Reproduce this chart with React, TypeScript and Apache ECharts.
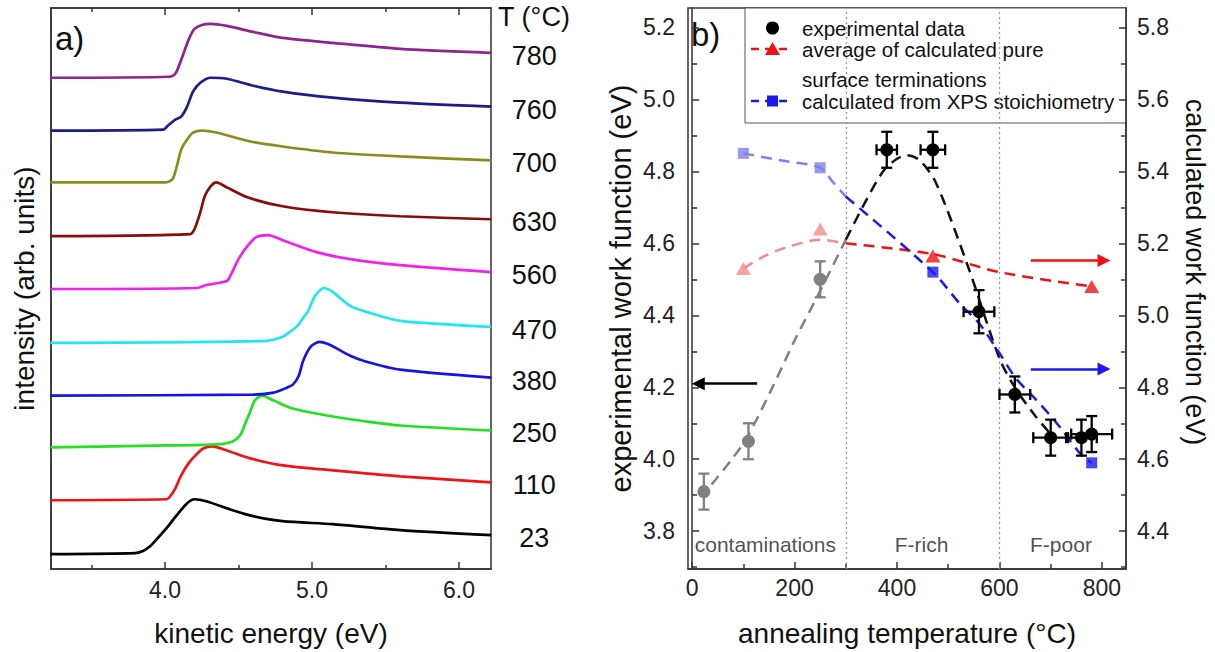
import React, { useEffect, useRef } from "react";
import * as echarts from "echarts";

// ---------------- panel a: photoemission cut-off spectra ----------------
const temperatures = [23, 110, 250, 380, 470, 560, 630, 700, 760, 780];

const spectrum23 = [[3.22,15],[3.80,16],[3.85,18],[3.90,23],[3.95,31],[4.01,41],[4.08,54],[4.15,66],[4.20,70],[4.28,68],[4.46,59],[4.60,53],[4.80,48],[5.14,45],[5.60,39],[6.22,34]];
const spectrum110 = [[3.22,69],[4.01,70],[4.03,72],[4.07,81],[4.11,94],[4.16,106],[4.22,116],[4.26,121],[4.32,123],[4.42,119],[4.58,111],[4.80,104],[5.14,99],[5.60,93],[6.22,87]];
const spectrum250 = [[3.22,122],[4.01,124],[4.35,125],[4.46,128],[4.51,134],[4.54,144],[4.58,158],[4.61,169],[4.66,174],[4.74,169],[4.87,161],[5.14,153],[5.37,148],[5.60,144],[6.22,139]];
const spectrum380 = [[3.22,174],[4.60,175],[4.74,177],[4.83,182],[4.87,185],[4.91,194],[4.94,209],[4.99,223],[5.05,228],[5.12,225],[5.26,214],[5.37,208],[5.60,200],[6.22,192]];
const spectrum470 = [[3.22,227],[4.69,229],[4.80,233],[4.85,238],[4.90,244],[4.94,252],[4.97,258],[5.02,274],[5.08,282],[5.14,278],[5.26,264],[5.37,258],[5.60,249],[6.22,243]];
const spectrum560 = [[3.22,281],[4.22,282],[4.28,285],[4.42,289],[4.45,296],[4.50,311],[4.56,324],[4.62,333],[4.70,335],[4.80,330],[5.03,318],[5.26,311],[5.60,305],[6.22,298]];
const spectrum630 = [[3.22,334],[4.17,336],[4.20,341],[4.24,358],[4.27,374],[4.31,384],[4.35,388],[4.42,383],[4.56,373],[4.80,364],[5.14,358],[5.60,354],[6.22,351]];
const spectrum700 = [[3.22,388],[4.00,388],[4.05,391],[4.08,404],[4.11,421],[4.15,431],[4.19,438],[4.25,440],[4.35,438],[4.58,429],[4.80,424],[5.14,418],[5.60,414],[6.22,410]];
const spectrum760 = [[3.22,440],[3.99,441],[4.02,445],[4.07,451],[4.11,454],[4.15,464],[4.19,479],[4.24,488],[4.31,493],[4.42,492],[4.60,485],[4.80,479],[5.14,473],[5.60,468],[6.22,464]];
const spectrum780 = [[3.22,493],[4.03,494],[4.07,497],[4.11,511],[4.16,531],[4.20,542],[4.25,546],[4.31,547],[4.42,545],[4.60,539],[4.80,533],[5.14,528],[5.60,522],[6.22,518]];

const spectra = [spectrum23, spectrum110, spectrum250, spectrum380, spectrum470, spectrum560, spectrum630, spectrum700, spectrum760, spectrum780];
const energyTicks = [4.0, 5.0, 6.0];

// ---------------- panel b: work function ----------------
const expWorkFunction = [3.91, 4.05, 4.50, 4.86, 4.86, 4.41, 4.18, 4.06, 4.06, 4.07];
const expTempError = [0, 0, 0, 20, 24, 30, 30, 34, 30, 40];
const expWfError = [0.05, 0.05, 0.05, 0.05, 0.05, 0.06, 0.05, 0.05, 0.05, 0.05];

const calcTemperatures = [100, 250, 470, 780];
const avgPureTerminations = [5.13, 5.24, 5.165, 5.08];
const xpsStoichiometry = [5.45, 5.41, 5.12, 4.59];

const expTrendContam = [[38,3.93],[75,3.995],[107,4.06],[157,4.2],[200,4.33],[249,4.465],[300,4.61]];
const expTrendMain = [[300,4.61],[340,4.72],[373,4.80],[400,4.835],[420,4.845],[445,4.83],[477,4.765],[540,4.53],[600,4.28],[630,4.2],[670,4.12],[700,4.07]];
const avgTrendContam = [[100,5.13],[142,5.165],[187,5.19],[249,5.21],[300,5.2]];
const avgTrendMain = [[300,5.2],[470,5.17],[600,5.12],[780,5.08]];
const xpsTrendContam = [[100,5.45],[175,5.43],[250,5.41],[275,5.37],[300,5.33]];
const xpsTrendMain = [[300,5.33],[470,5.12],[524,5.03],[559,4.98],[593,4.91],[632,4.825],[662,4.78],[700,4.72],[723,4.68],[761,4.61],[780,4.59]];

const expArrow = [[127, 4.21], [12, 4.21]];
const avgArrow = [[661, 5.152], [804, 5.152]];
const xpsArrow = [[661, 4.851], [804, 4.851]];

const regionBounds = [300, 600];
const regionLabels = ["contaminations", "F-rich", "F-poor"];
const regionLabelTemps = [143, 448, 720];
const regionLabelLevel = 3.764;

const temperatureTicks = [0, 200, 400, 600, 800];
const expWfTicks = [3.8, 4.0, 4.2, 4.4, 4.6, 4.8, 5.0, 5.2];
const calcWfTicks = [4.4, 4.6, 4.8, 5.0, 5.2, 5.4, 5.6, 5.8];

// ---------------- styles ----------------
const FONT = "'Liberation Sans', Arial, Helvetica, sans-serif";
const spectrumColors = ["#000000", "#f01414", "#22e022", "#1414e6", "#22e6f0", "#f020f0", "#8b0a0a", "#8c8c1e", "#1c1c8c", "#8e248e"];
const AXIS = "#333";
const GRAY = "#808080";
const RED = "#ee1111";
const LIGHT_RED = "#f28c8c";
const BLUE = "#1a1aee";
const LIGHT_BLUE = "#8080ee";

export default function App() {
  const ref = useRef<HTMLDivElement>(null);

  useEffect(() => {
    if (!ref.current) return;
    const chart = echarts.init(ref.current, undefined, { renderer: "svg" });

    const axisLine = { show: true, lineStyle: { color: AXIS, width: 1.5 } };
    const tickLabel = { color: "#222", fontSize: 23, fontFamily: FONT };

    const spectraSeries = spectra.map((d, i) => ({
      type: "line",
      name: String(temperatures[i]),
      xAxisIndex: 0,
      yAxisIndex: 0,
      data: d,
      showSymbol: false,
      smooth: 0.25,
      lineStyle: { color: spectrumColors[i], width: 2.7 },
      itemStyle: { color: spectrumColors[i] },
      z: 2,
    }));

    const dashed = (data: number[][], color: string, yAxisIndex: number, extra: any = {}) => ({
      type: "line",
      xAxisIndex: 2,
      yAxisIndex,
      data,
      showSymbol: false,
      smooth: 0.3,
      lineStyle: { color, width: 2.5, type: [11, 7] },
      z: 3,
      ...extra,
    });

    const arrow = (coords: number[][], color: string, yAxisIndex: number) => ({
      type: "lines",
      coordinateSystem: "cartesian2d",
      xAxisIndex: 2,
      yAxisIndex,
      symbol: ["none", "triangle"],
      symbolSize: [12, 13],
      lineStyle: { color, width: 2.6, opacity: 1, curveness: 0 },
      data: [{ coords }],
      z: 4,
    });

    const legendFont = 20.5;
    const baseGraphics: any[] = [
      { type: "text", x: 55, y: 38, style: { text: "a)", fontSize: 33, fontFamily: FONT, fill: "#111", align: "left", verticalAlign: "middle" } },
      { type: "text", x: 534, y: 17, style: { text: "T (°C)", fontSize: 27, fontFamily: FONT, fill: "#111", align: "center", verticalAlign: "middle" } },
      { type: "text", x: 691, y: 34, style: { text: "b)", fontSize: 33, fontFamily: FONT, fill: "#111", align: "left", verticalAlign: "middle" } },
      {
        type: "text", x: 1195, y: 272, rotation: -Math.PI / 2,
        style: { text: "calculated work function (eV)", fontSize: 27, fontFamily: FONT, fill: "#111", align: "center", verticalAlign: "middle" },
      },
      {
        type: "group", z: 100,
        children: [
          { type: "rect", shape: { x: 745, y: 8, width: 381, height: 115 }, style: { fill: "#fff", stroke: "#555", lineWidth: 1 } },
          { type: "circle", shape: { cx: 772.5, cy: 28, r: 6.5 }, style: { fill: "#000" } },
          { type: "text", x: 802, y: 28, style: { text: "experimental data", fontSize: legendFont, fontFamily: FONT, fill: "#111", verticalAlign: "middle" } },
          { type: "line", shape: { x1: 751, y1: 49, x2: 793, y2: 49 }, style: { stroke: RED, lineWidth: 2.5, lineDash: [8, 6] } },
          { type: "polygon", shape: { points: [[772.5, 42], [780, 55], [765, 55]] }, style: { fill: RED } },
          { type: "text", x: 802, y: 49, style: { text: "average of calculated pure", fontSize: legendFont, fontFamily: FONT, fill: "#111", verticalAlign: "middle" } },
          { type: "text", x: 802, y: 79, style: { text: "surface terminations", fontSize: legendFont, fontFamily: FONT, fill: "#111", verticalAlign: "middle" } },
          { type: "line", shape: { x1: 751, y1: 101, x2: 793, y2: 101 }, style: { stroke: BLUE, lineWidth: 2.5, lineDash: [8, 6] } },
          { type: "rect", shape: { x: 767, y: 95.5, width: 11, height: 11 }, style: { fill: BLUE } },
          { type: "text", x: 802, y: 101, style: { text: "calculated from XPS stoichiometry", fontSize: legendFont, fontFamily: FONT, fill: "#111", verticalAlign: "middle" } },
        ],
      },
    ];

    const option: any = {
      animation: false,
      textStyle: { fontFamily: FONT },
      grid: [
        { left: 51, top: 8, width: 440, height: 563, show: true, borderColor: AXIS, borderWidth: 1.5, backgroundColor: "transparent" },
        { left: 688, top: 8, width: 438, height: 564, show: true, borderColor: AXIS, borderWidth: 1.5, backgroundColor: "transparent" },
      ],
      xAxis: [
        {
          type: "value", gridIndex: 0, min: 3.224, max: 6.218, splitNumber: 3,
          axisLine,
          axisTick: { show: true, inside: true, length: 7, customValues: energyTicks, lineStyle: { color: AXIS, width: 1.5 } },
          minorTick: { show: true, splitNumber: 2, length: 4, lineStyle: { color: AXIS, width: 1.5 } },
          axisLabel: { ...tickLabel, margin: 9, customValues: energyTicks, formatter: (v: number) => v.toFixed(1) },
          splitLine: { show: false },
          name: "kinetic energy (eV)", nameLocation: "middle", nameGap: 50,
          nameTextStyle: { fontSize: 28, color: "#111", fontFamily: FONT },
        },
        {
          type: "value", gridIndex: 0, position: "top", min: 3.224, max: 6.218, splitNumber: 3,
          axisLine,
          axisTick: { show: true, inside: true, length: 7, customValues: energyTicks, lineStyle: { color: AXIS, width: 1.5 } },
          minorTick: { show: true, splitNumber: 2, length: 4, lineStyle: { color: AXIS, width: 1.5 } },
          axisLabel: { show: false },
          splitLine: { show: false },
        },
        {
          type: "value", gridIndex: 1, min: -8, max: 847, splitNumber: 4,
          axisLine,
          axisTick: { show: true, inside: true, length: 7, customValues: temperatureTicks, lineStyle: { color: AXIS, width: 1.5 } },
          minorTick: { show: true, splitNumber: 2, length: 5, lineStyle: { color: AXIS, width: 1.5 } },
          axisLabel: { ...tickLabel, margin: 7, customValues: temperatureTicks },
          splitLine: { show: false },
          name: "annealing temperature (°C)", nameLocation: "middle", nameGap: 50,
          nameTextStyle: { fontSize: 28, color: "#111", fontFamily: FONT },
        },
      ],
      yAxis: [
        {
          type: "value", gridIndex: 0, min: 0, max: 563,
          axisLine, axisTick: { show: false }, axisLabel: { show: false }, splitLine: { show: false },
          name: "intensity (arb. units)", nameLocation: "middle", nameGap: 13,
          nameTextStyle: { fontSize: 28, color: "#111", fontFamily: FONT },
        },
        {
          type: "value", gridIndex: 1, min: 3.695, max: 5.254, splitNumber: 8,
          axisLine,
          axisTick: { show: true, inside: true, length: 7, customValues: expWfTicks, lineStyle: { color: AXIS, width: 1.5 } },
          minorTick: { show: true, splitNumber: 2, length: 5, lineStyle: { color: AXIS, width: 1.5 } },
          axisLabel: { ...tickLabel, margin: 13, customValues: expWfTicks, formatter: (v: number) => v.toFixed(1) },
          splitLine: { show: false },
          name: "experimental work function (eV)", nameLocation: "middle", nameGap: 53,
          nameTextStyle: { fontSize: 29, color: "#111", fontFamily: FONT },
        },
        {
          type: "value", gridIndex: 1, position: "right", min: 4.295, max: 5.854, splitNumber: 8,
          axisLine,
          axisTick: { show: true, inside: true, length: 7, customValues: calcWfTicks, lineStyle: { color: AXIS, width: 1.5 } },
          minorTick: { show: true, splitNumber: 2, length: 5, lineStyle: { color: AXIS, width: 1.5 } },
          axisLabel: { ...tickLabel, margin: 11, customValues: calcWfTicks, formatter: (v: number) => v.toFixed(1) },
          splitLine: { show: false },
        },
      ],
      series: [
        ...spectraSeries,
        dashed(expTrendContam, GRAY, 1),
        dashed(expTrendMain, "#111", 1),
        dashed(avgTrendContam, LIGHT_RED, 2),
        dashed(avgTrendMain, RED, 2, {
          markLine: {
            silent: true,
            symbol: "none",
            label: { show: false },
            lineStyle: { color: "#9a9a9a", width: 1.3, type: [2, 3] },
            data: regionBounds.map((b) => ({ xAxis: b })),
            z: 1,
          },
        }),
        dashed(xpsTrendContam, LIGHT_BLUE, 2),
        dashed(xpsTrendMain, BLUE, 2),
        arrow(expArrow, "#000", 1),
        arrow(avgArrow, RED, 2),
        arrow(xpsArrow, BLUE, 2),
        {
          type: "scatter", xAxisIndex: 2, yAxisIndex: 2, symbol: "triangle", symbolSize: [15, 13], z: 5,
          data: calcTemperatures.map((t, i) => ({ value: [t, avgPureTerminations[i]], itemStyle: { color: t < regionBounds[0] ? LIGHT_RED : RED } })),
        },
        {
          type: "scatter", xAxisIndex: 2, yAxisIndex: 2, symbol: "rect", symbolSize: 11, z: 5,
          data: calcTemperatures.map((t, i) => ({ value: [t, xpsStoichiometry[i]], itemStyle: { color: t < regionBounds[0] ? LIGHT_BLUE : BLUE } })),
        },
        {
          type: "scatter", xAxisIndex: 2, yAxisIndex: 1, symbolSize: 0, z: 5, silent: true,
          data: regionLabels.map((n, i) => ({ name: n, value: [regionLabelTemps[i], regionLabelLevel] })),
          label: { show: true, position: "inside", formatter: "{b}", fontSize: 21, color: "#222", fontFamily: FONT },
        },
        {
          type: "custom", xAxisIndex: 2, yAxisIndex: 1, z: 6,
          encode: { x: 0, y: 1 },
          data: temperatures.map((t, i) => [t, expWorkFunction[i], expTempError[i], expWfError[i]]),
          renderItem: (params: any, api: any) => {
            const t = api.value(0), wf = api.value(1), te = api.value(2), we = api.value(3);
            const c = api.coord([t, wf]);
            const top = api.coord([t, wf + we]);
            const bot = api.coord([t, wf - we]);
            const color = t < regionBounds[0] ? GRAY : "#000";
            const st = { stroke: color, lineWidth: 2.3, fill: null };
            const cap = 5.5;
            const children: any[] = [
              { type: "line", shape: { x1: c[0], y1: top[1], x2: c[0], y2: bot[1] }, style: st },
              { type: "line", shape: { x1: c[0] - cap, y1: top[1], x2: c[0] + cap, y2: top[1] }, style: st },
              { type: "line", shape: { x1: c[0] - cap, y1: bot[1], x2: c[0] + cap, y2: bot[1] }, style: st },
            ];
            if (te > 0) {
              const l = api.coord([t - te, wf]);
              const r = api.coord([t + te, wf]);
              children.push(
                { type: "line", shape: { x1: l[0], y1: c[1], x2: r[0], y2: c[1] }, style: st },
                { type: "line", shape: { x1: l[0], y1: c[1] - cap, x2: l[0], y2: c[1] + cap }, style: st },
                { type: "line", shape: { x1: r[0], y1: c[1] - cap, x2: r[0], y2: c[1] + cap }, style: st },
              );
            }
            children.push({ type: "circle", shape: { cx: c[0], cy: c[1], r: 6.5 }, style: { fill: color } });
            return { type: "group", children };
          },
        },
      ],
      graphic: baseGraphics,
    };

    chart.setOption(option);

    // temperature labels next to the end of each spectrum, placed through the chart's own scales
    const tempLabels = spectra.map((d, i) => {
      const p = chart.convertToPixel({ seriesIndex: i }, d[d.length - 1]) as number[];
      return {
        type: "text", x: p[0] + 43, y: p[1] + 3,
        style: { text: String(temperatures[i]), fontSize: 27, fontFamily: FONT, fill: "#111", align: "center", verticalAlign: "middle" },
      };
    });
    chart.setOption({ graphic: [...baseGraphics, ...tempLabels] });

    return () => chart.dispose();
  }, []);

  return <div ref={ref} style={{ position: "fixed", left: 0, top: 0, width: 1215, height: 652, background: "#fff" }} />;
}
